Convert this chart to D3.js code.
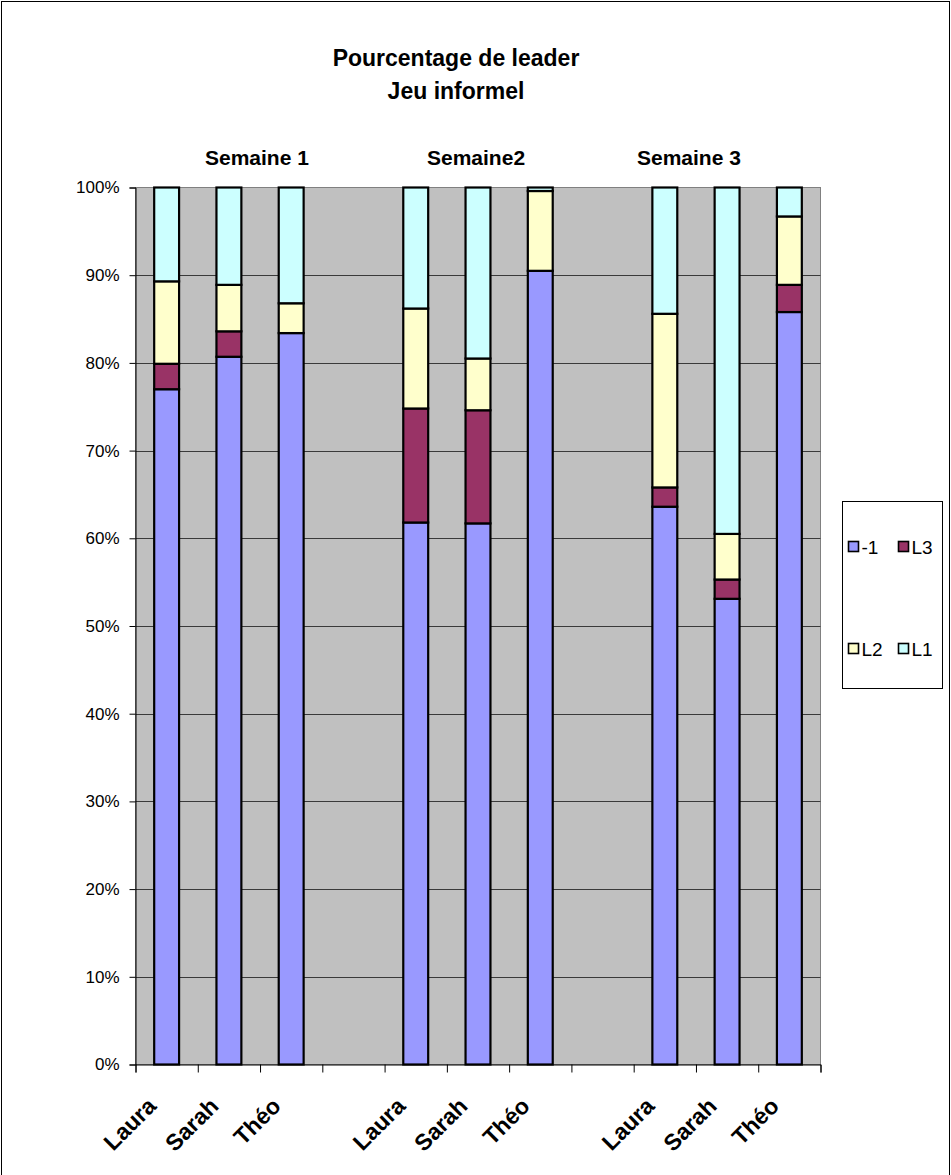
<!DOCTYPE html>
<html>
<head>
<meta charset="utf-8">
<script src="https://cdn.jsdelivr.net/npm/d3@7"></script>
<style>
  html, body { margin: 0; padding: 0; background: #fff; }
  svg { display: block; }
  text { font-family: "Liberation Sans", Arial, sans-serif; }
</style>
</head>
<body>
<svg id="chart" width="951" height="1175"></svg>
<script>
// Category slots along the x axis (empty slots separate the weeks)
const categories = ["Laura", "Sarah", "Théo", "", "Laura", "Sarah", "Théo", "", "Laura", "Sarah", "Théo"];
const weekLabels = ["Semaine 1", "Semaine2", "Semaine 3"];
const seriesKeys = ["-1", "L3", "L2", "L1"];

// Share of each leader state (%), per slot
const valMinus1 = [77.0, 80.7, 83.4, 0, 61.8, 61.7, 90.5, 0, 63.6, 53.1, 85.8];
const valL3     = [ 2.9,  2.9,  0.0, 0, 13.0, 12.9,  0.0, 0,  2.2,  2.2,  3.1];
const valL2     = [ 9.4,  5.3,  3.4, 0, 11.4,  5.9,  9.1, 0, 19.8,  5.2,  7.8];
const valL1     = [10.7, 11.1, 13.2, 0, 13.8, 19.5,  0.4, 0, 14.4, 39.5,  3.3];

const yTicks = [0, 10, 20, 30, 40, 50, 60, 70, 80, 90, 100];

const colors = { "-1": "#9999FF", "L3": "#993366", "L2": "#FFFFCC", "L1": "#CCFFFF" };

const svg = d3.select("#chart");
const W = 951, H = 1175;

// outer chart frame
svg.append("rect")
  .attr("x", 1.5).attr("y", 1.5)
  .attr("width", W - 3).attr("height", H + 10)
  .attr("fill", "#fff").attr("stroke", "#000").attr("stroke-width", 1);

const plot = { left: 135.5, right: 820.5, top: 187.5, bottom: 1064.5 };

const rows = categories.map((c, i) => ({
  idx: i, name: c,
  "-1": valMinus1[i], "L3": valL3[i], "L2": valL2[i], "L1": valL1[i]
}));

const x = d3.scaleBand()
  .domain(d3.range(categories.length))
  .range([plot.left, plot.right])
  .paddingInner(0).paddingOuter(0);

const y = d3.scaleLinear().domain([0, 100]).range([plot.bottom, plot.top]);

// plot area background
svg.append("rect")
  .attr("x", plot.left).attr("y", plot.top)
  .attr("width", plot.right - plot.left).attr("height", plot.bottom - plot.top)
  .attr("fill", "#C0C0C0").attr("stroke", "#808080").attr("stroke-width", 1);

// horizontal gridlines
svg.append("g")
  .selectAll("line")
  .data(yTicks.filter(t => t > 0 && t < 100))
  .join("line")
  .attr("x1", plot.left).attr("x2", plot.right)
  .attr("y1", d => Math.round(y(d)) + 0.5).attr("y2", d => Math.round(y(d)) + 0.5)
  .attr("stroke", "#3a3a3a").attr("stroke-width", 1);

// stacked bars
const stack = d3.stack().keys(seriesKeys);
const layers = stack(rows);

const barW = x.bandwidth() / 2.5;

svg.append("g")
  .selectAll("g")
  .data(layers)
  .join("g")
  .attr("fill", d => colors[d.key])
  .selectAll("rect")
  .data(d => d.filter(s => s.data.name !== "" && s[1] - s[0] > 0))
  .join("rect")
  .attr("x", d => x(d.data.idx) + (x.bandwidth() - barW) / 2)
  .attr("width", barW)
  .attr("y", d => y(d[1]))
  .attr("height", d => y(d[0]) - y(d[1]))
  .attr("stroke", "#000")
  .attr("stroke-width", 2.2);

// y axis
const yAxis = d3.axisLeft(y)
  .tickValues(yTicks)
  .tickSize(6)
  .tickPadding(10)
  .tickFormat(d => d + "%");

const gy = svg.append("g")
  .attr("transform", `translate(${plot.left},0)`)
  .call(yAxis);
gy.select(".domain").attr("stroke", "#000");
gy.selectAll(".tick line").attr("stroke", "#000");
gy.selectAll(".tick text")
  .attr("font-size", 17)
  .attr("fill", "#000")
  .style("font-family", "'Liberation Sans', Arial, sans-serif");

// x axis: ticks on slot boundaries
const boundaries = d3.range(categories.length + 1);
const xb = d3.scaleLinear().domain([0, categories.length]).range([plot.left, plot.right]);
const xAxis = d3.axisBottom(xb)
  .tickValues(boundaries)
  .tickSize(8)
  .tickFormat("");
const gx = svg.append("g")
  .attr("transform", `translate(0,${plot.bottom})`)
  .call(xAxis);
gx.select(".domain").attr("stroke", "#000");
gx.selectAll(".tick line").attr("stroke", "#000");

// rotated category names
svg.append("g")
  .selectAll("text")
  .data(rows.filter(r => r.name !== ""))
  .join("text")
  .attr("transform", d => `translate(${x(d.idx) + x.bandwidth() / 2 - 9},${plot.bottom + 43}) rotate(-45)`)
  .attr("text-anchor", "end")
  .attr("font-size", 23)
  .attr("font-weight", "bold")
  .attr("fill", "#000")
  .text(d => d.name);

// title
const title = svg.append("text")
  .attr("x", 456).attr("text-anchor", "middle")
  .attr("font-size", 23).attr("font-weight", "bold").attr("fill", "#000");
title.append("tspan").attr("x", 456).attr("y", 66).text("Pourcentage de leader");
title.append("tspan").attr("x", 456).attr("y", 99).text("Jeu informel");

// week headings
const weekX = [205, 427, 637];
svg.append("g")
  .selectAll("text")
  .data(weekLabels)
  .join("text")
  .attr("x", (d, i) => weekX[i])
  .attr("y", 165)
  .attr("font-size", 21)
  .attr("font-weight", "bold")
  .attr("fill", "#000")
  .text(d => d);

// legend
const lg = svg.append("g").attr("transform", "translate(842.5,501.5)");
lg.append("rect")
  .attr("width", 100).attr("height", 187)
  .attr("fill", "#fff").attr("stroke", "#000").attr("stroke-width", 1);

const legendItems = [
  { key: "-1", col: 0, row: 0 },
  { key: "L3", col: 1, row: 0 },
  { key: "L2", col: 0, row: 1 },
  { key: "L1", col: 1, row: 1 }
];
const li = lg.selectAll("g.item")
  .data(legendItems)
  .join("g")
  .attr("class", "item")
  .attr("transform", d => `translate(${6 + d.col * 50},${40 + d.row * 102})`);
li.append("rect")
  .attr("width", 10).attr("height", 10)
  .attr("fill", d => colors[d.key])
  .attr("stroke", "#000").attr("stroke-width", 1.6);
li.append("text")
  .attr("x", 13).attr("y", 12)
  .attr("font-size", 19)
  .attr("fill", "#000")
  .text(d => d.key);
</script>
</body>
</html>
